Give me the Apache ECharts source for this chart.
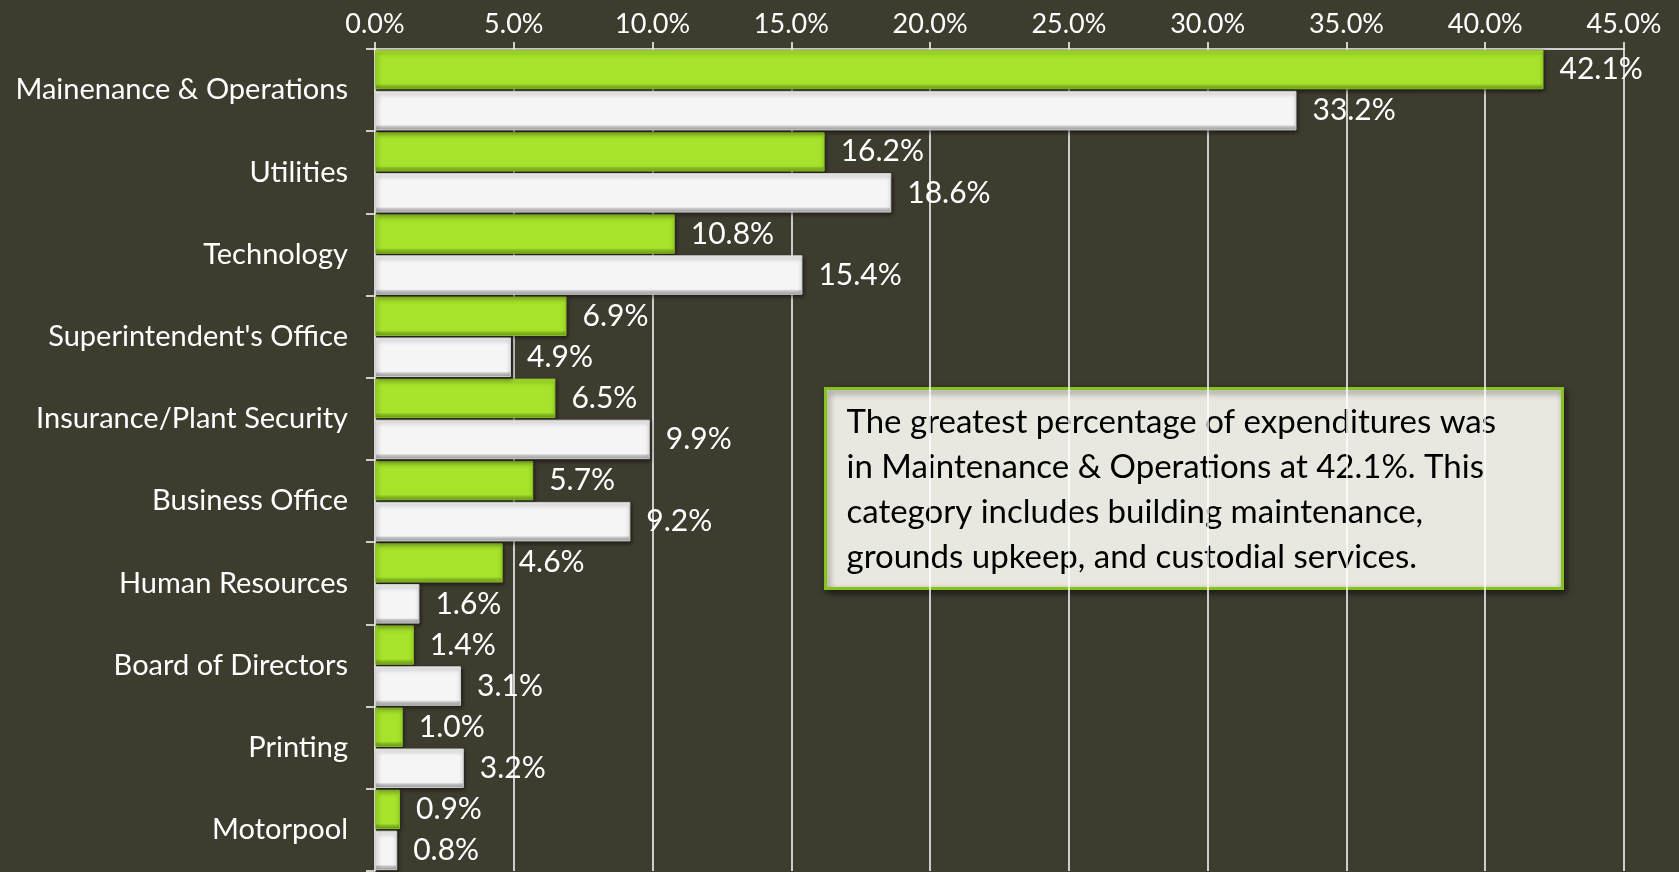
<!DOCTYPE html>
<html>
<head>
<meta charset="utf-8">
<script src="https://cdn.jsdelivr.net/npm/echarts@6/dist/echarts.min.js"></script>
<style>
  html, body { margin: 0; padding: 0; background: #3e3b2f; }
  #chart { width: 1679px; height: 872px; }
</style>
</head>
<body>
<div id="chart"></div>
<script>
// Expenditure share by department, two periods
const categories = [
  'Mainenance & Operations', 'Utilities', 'Technology', "Superintendent's Office",
  'Insurance/Plant Security', 'Business Office', 'Human Resources',
  'Board of Directors', 'Printing', 'Motorpool'
];
const greenValues = [42.1, 16.2, 10.8, 6.9, 6.5, 5.7, 4.6, 1.4, 1.0, 0.9];
const whiteValues = [33.2, 18.6, 15.4, 4.9, 9.9, 9.2, 1.6, 3.1, 3.2, 0.8];
const axisMin = 0, axisMax = 45, axisStep = 5;
const noteText = 'The greatest percentage of expenditures was\nin Maintenance & Operations at 42.1%. This\ncategory includes building maintenance,\ngrounds upkeep, and custodial services.';

const FONT = 'Lato, "DejaVu Sans", sans-serif';

function bevel(light, main, dark, darker) {
  return {
    type: 'linear', x: 0, y: 0, x2: 0, y2: 1,
    colorStops: [
      { offset: 0, color: light },
      { offset: 0.06, color: main },
      { offset: 0.86, color: main },
      { offset: 0.9, color: dark },
      { offset: 1, color: darker }
    ]
  };
}

const labelStyle = {
  show: true, position: 'right', distance: 16,
  color: '#ffffff', fontFamily: FONT, fontSize: 30,
  formatter: p => p.value.toFixed(1) + '%'
};

const chart = echarts.init(document.getElementById('chart'));
chart.setOption({
  backgroundColor: '#3e3b2f',
  animation: false,
  grid: { left: 375, right: 55, top: 49, bottom: 1, containLabel: false },
  xAxis: {
    type: 'value', position: 'top', min: axisMin, max: axisMax, interval: axisStep,
    axisLine: { show: true, lineStyle: { color: '#ffffff', width: 1.5 } },
    axisTick: { show: true, length: 7, lineStyle: { color: '#ffffff', width: 1.5 } },
    axisLabel: {
      color: '#ffffff', fontFamily: FONT, fontSize: 27, margin: 11,
      formatter: v => v.toFixed(1) + '%'
    },
    splitLine: { show: true, lineStyle: { color: '#ffffff', width: 1.5 } }
  },
  yAxis: {
    type: 'category', data: categories, inverse: true,
    axisLine: { show: true, lineStyle: { color: '#ffffff', width: 1.5 } },
    axisTick: { show: true, length: 9, lineStyle: { color: '#ffffff', width: 1.5 } },
    axisLabel: { color: '#ffffff', fontFamily: FONT, fontSize: 29, margin: 27 }
  },
  series: [
    {
      type: 'bar', data: greenValues, barGap: '4%', barCategoryGap: '2%',
      itemStyle: {
        color: bevel('#c9f04a', '#a6e32a', '#8cc322', '#6f9b1a'),
        borderColor: '#8fc426', borderWidth: 1,
        shadowColor: 'rgba(0,0,0,0.55)', shadowBlur: 4, shadowOffsetY: 2, shadowOffsetX: 1
      },
      label: labelStyle
    },
    {
      type: 'bar', data: whiteValues,
      itemStyle: {
        color: bevel('#ffffff', '#f5f5f5', '#c8c8c8', '#9e9e9e'),
        borderColor: '#d0d0d0', borderWidth: 1,
        shadowColor: 'rgba(0,0,0,0.55)', shadowBlur: 4, shadowOffsetY: 2, shadowOffsetX: 1
      },
      label: labelStyle
    }
  ],
  graphic: [
    {
      type: 'group', left: 824, top: 387,
      children: [
        {
          type: 'rect', shape: { x: 0, y: 0, width: 737, height: 200 },
          style: {
            fill: '#e8e8e0', stroke: '#86c21c', lineWidth: 3,
            shadowColor: 'rgba(0,0,0,0.5)', shadowBlur: 6, shadowOffsetX: 2, shadowOffsetY: 3
          }
        },
        {
          type: 'text', x: 21, y: 11,
          style: {
            text: noteText, fill: '#000000', fontFamily: FONT, fontSize: 33,
            lineHeight: 45
          }
        }
      ]
    }
  ]
});
</script>
</body>
</html>
